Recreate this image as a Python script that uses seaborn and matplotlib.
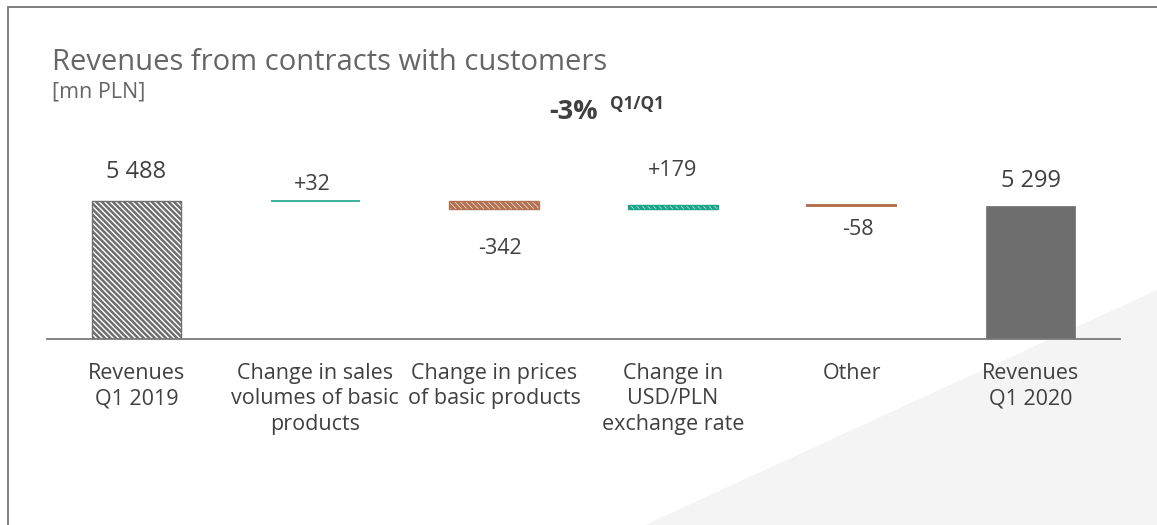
import numpy as np
import pandas as pd
import matplotlib
matplotlib.use("Agg")
import matplotlib.pyplot as plt
from matplotlib.patches import Polygon
from matplotlib.lines import Line2D
import seaborn as sns

# Waterfall data [mn PLN]
categories = [
    "Revenues\nQ1 2019",
    "Change in sales\nvolumes of basic\nproducts",
    "Change in prices\nof basic products",
    "Change in\nUSD/PLN\nexchange rate",
    "Other",
    "Revenues\nQ1 2020",
]
start_total = 5488
changes = [32, -342, 179, -58]
end_total = 5299

sns.set_style("white")
plt.rcParams["font.family"] = ["Open Sans", "DejaVu Sans"]
plt.rcParams["hatch.linewidth"] = 1.8

GRAY = "#6e6e6e"
TEAL = "#1aa488"
BROWN = "#b27150"
TEXT = "#404040"

# Floating bar geometry derived from the running total
values = [start_total] + changes + [end_total]
bottoms, heights = [0], [start_total]
running = start_total
for c in changes:
    bottoms.append(min(running, running + c))
    heights.append(abs(c))
    running += c
bottoms.append(0)
heights.append(end_total)

df = pd.DataFrame({"category": categories, "height": heights})

W, H = 1157, 525
fig = plt.figure(figsize=(W / 100, H / 100), dpi=100)
fig.patch.set_facecolor("white")

# light diagonal background shape, bottom right
tri = Polygon([(645 / W, 0), (1, 0), (1, 1 - 290 / H)], closed=True,
              transform=fig.transFigure, facecolor="#f4f4f4", edgecolor="none", zorder=-5)
fig.patches.append(tri)
# thin frame on top and left
fig.add_artist(Line2D([8 / W, 1], [1 - 7 / H, 1 - 7 / H], color="#808080", lw=1.4,
                      transform=fig.transFigure))
fig.add_artist(Line2D([8 / W, 8 / W], [0, 1 - 7 / H], color="#808080", lw=1.4,
                      transform=fig.transFigure))

ax = fig.add_axes([47 / W, (H - 339) / H, (1120 - 47) / W, 189 / H])
ax.set_zorder(1)
ax.patch.set_alpha(0)

sns.barplot(data=df, x="category", y="height", order=categories, color=GRAY,
            width=0.5, ax=ax, saturation=1)

HATCH = "\\" * 6
styles = [
    dict(fc="white", ec=GRAY, hatch=HATCH, lw=1.0, hlw=1.8),
    dict(fc=TEAL, ec=TEAL, hatch=None, lw=1.2, hlw=None),
    dict(fc="white", ec=BROWN, hatch=HATCH, lw=1.0, hlw=2.4),
    dict(fc="white", ec=TEAL, hatch=HATCH, lw=1.0, hlw=2.4),
    dict(fc=BROWN, ec=BROWN, hatch=None, lw=1.4, hlw=None),
    dict(fc=GRAY, ec=GRAY, hatch=None, lw=0.5, hlw=None),
]
for p, b, h, st in zip(ax.patches, bottoms, heights, styles):
    p.set_y(b)
    p.set_height(h)
    p.set_facecolor(st["fc"])
    p.set_edgecolor(st["ec"])
    p.set_linewidth(st["lw"])
    if st["hatch"]:
        p.set_hatch(st["hatch"])
        if hasattr(p, "set_hatch_linewidth"):
            p.set_hatch_linewidth(st["hlw"])

ax.set_xlim(-0.5, len(categories) - 0.5)
ax.set_ylim(0, 7543)

# value labels: (dx, dy) offsets in pixels from the bar end
label_offsets = [(0, 29), (-3, 16), (6, -39), (0, 34), (6, -23), (0, 25)]
for i, (v, b, h) in enumerate(zip(values, bottoms, heights)):
    dx, dy = label_offsets[i]
    if i in (0, len(values) - 1):
        txt, anchor, fs = f"{v:,}".replace(",", " "), b + h, 17
    elif v >= 0:
        txt, anchor, fs = f"{v:+d}", b + h, 15.5
    else:
        txt, anchor, fs = f"{v:d}", b, 15.5
    ax.annotate(txt, (i, anchor), xytext=(dx * 0.72, dy * 0.72), textcoords="offset points",
                ha="center", va="center", fontsize=fs, color=TEXT)

for s in ["top", "right", "left"]:
    ax.spines[s].set_visible(False)
ax.spines["bottom"].set_color("#7a7a7a")
ax.spines["bottom"].set_linewidth(1.3)
ax.set_yticks([])
ax.set_xlabel("")
ax.set_ylabel("")
ax.tick_params(axis="x", length=0, pad=17, labelsize=15.5, labelcolor=TEXT)
for lbl in ax.get_xticklabels():
    lbl.set_linespacing(1.3)

fig.text(52 / W, 1 - 62 / H, "Revenues from contracts with customers", fontsize=21,
         color="#666666", ha="left", va="center")
fig.text(52 / W, 1 - 92 / H, "[mn PLN]", fontsize=15.5, color="#666666", ha="left", va="center")
fig.text(598 / W, 1 - 112 / H, "-3%", fontsize=19.5, fontweight="bold", color=TEXT,
         ha="right", va="center")
fig.text(610 / W, 1 - 104 / H, "Q1/Q1", fontsize=12.3, fontweight="bold", color=TEXT,
         ha="left", va="center")

fig.savefig("out.png", dpi=100)
